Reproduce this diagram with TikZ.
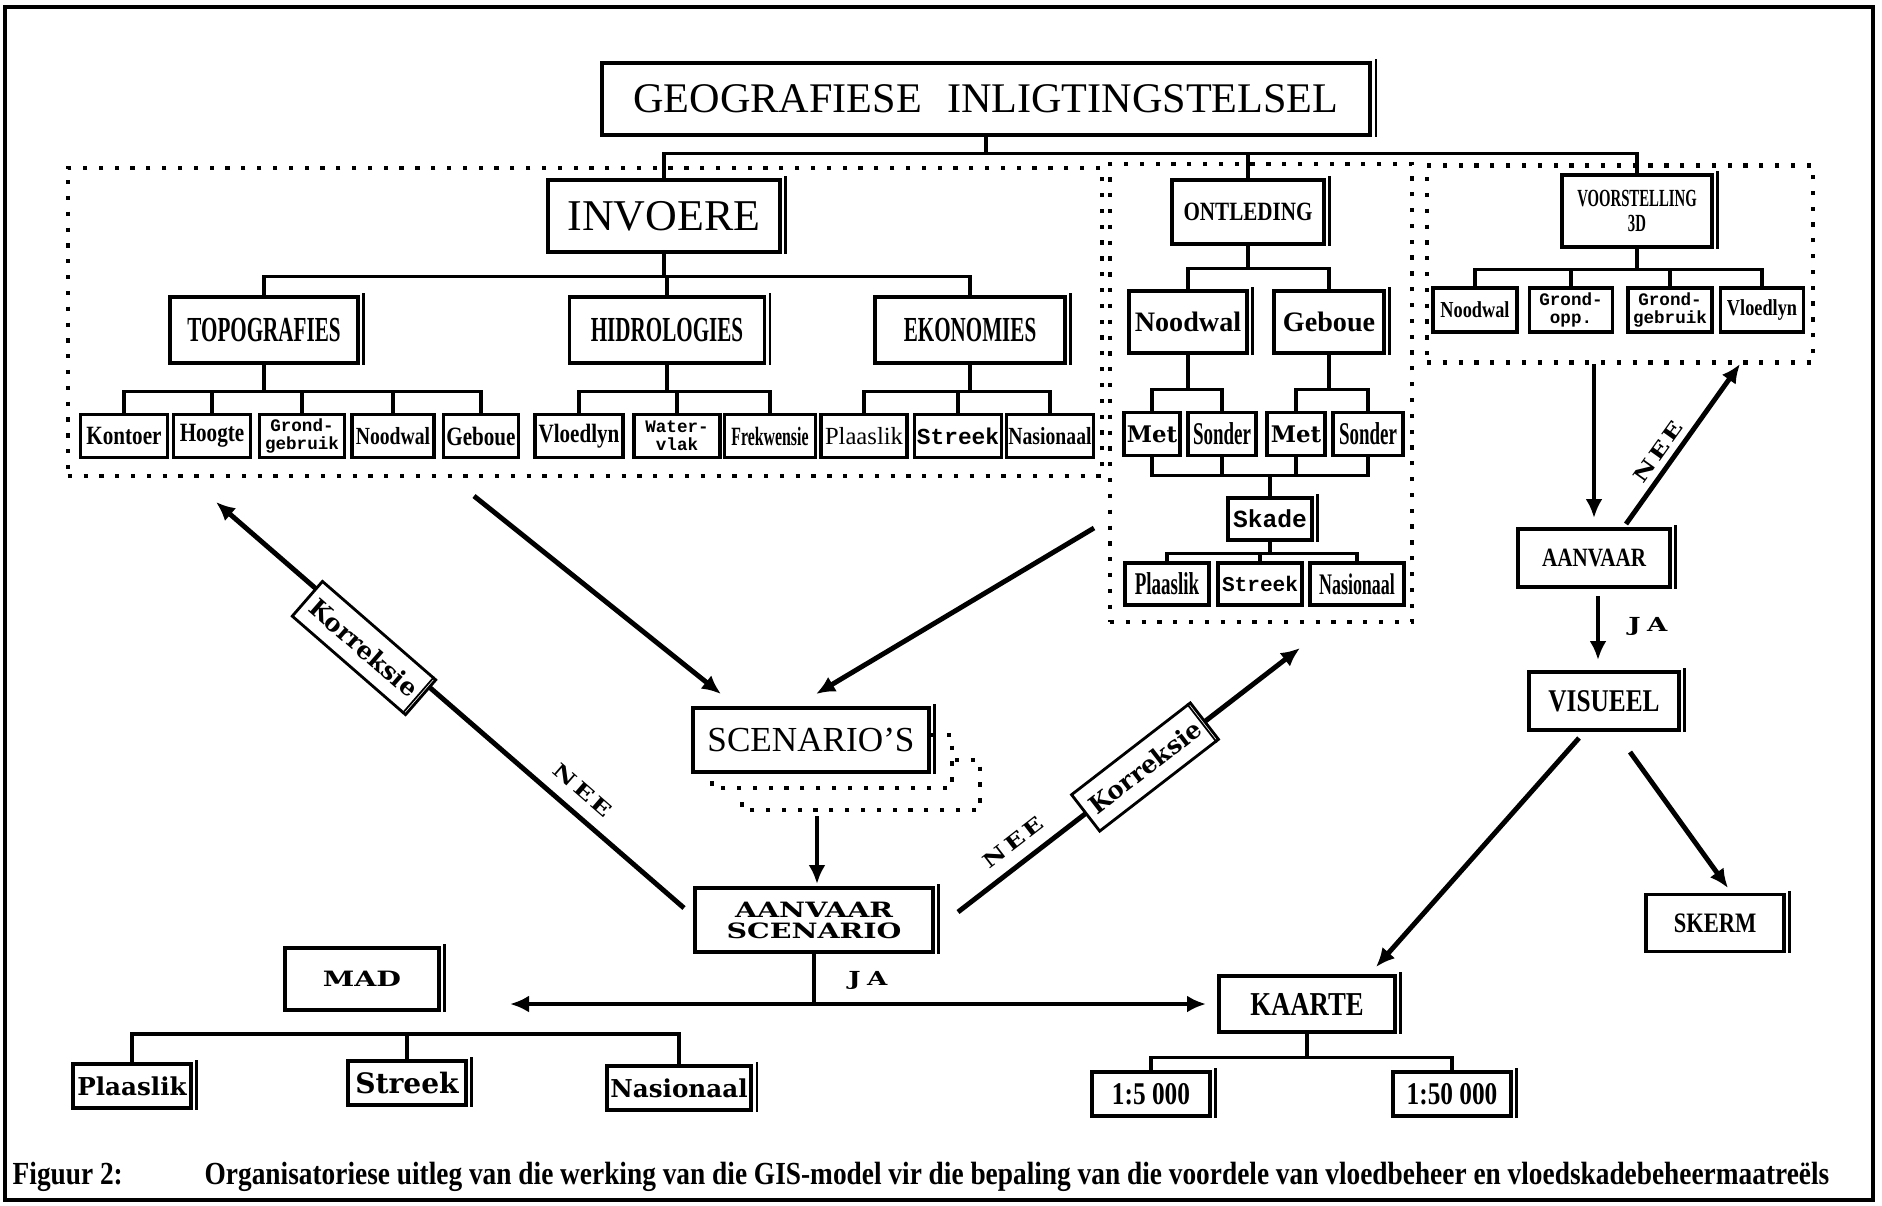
\documentclass[tikz,border=0pt]{standalone}
\usepackage{fontspec}
\setmainfont{Liberation Serif}
\newfontfamily\narrowfam{Liberation Serif}[FakeStretch=0.6]
\newfontfamily\semifam{Liberation Serif}[FakeStretch=0.8]
\newfontfamily\slabfam{DejaVu Serif}
\newfontfamily\widefam{DejaVu Serif}[FakeStretch=1.35]
\newfontfamily\typefam{Liberation Mono}
\newfontfamily\capfam{Liberation Serif}[FakeStretch=0.85]
\newcommand\fsz[1]{\fontsize{#1}{#1}\selectfont}
\usetikzlibrary{arrows.meta,calc}
\begin{document}
\begin{tikzpicture}[x=0.01cm, y=-0.01cm, >={Latex[length=1.9mm,width=1.7mm]},
  bigbox/.style={draw, line width=1pt, fill=white, inner sep=1pt, align=center,
    append after command={\pgfextra{\draw[line width=0.7pt]
      ([xshift=1.1pt,yshift=0.5pt]\tikzlastnode.north east) --
      ([xshift=1.1pt]\tikzlastnode.south east);}}},
  smallbox/.style={draw, line width=0.9pt, fill=white, inner sep=0.5pt, align=center},
  region/.style={draw, line width=1.2pt, dash pattern=on 1.2pt off 3.3pt},
  tree/.style={line width=0.9pt},
  flow/.style={line width=1.4pt, ->},
  korrbox/.style={draw, line width=0.8pt, fill=white, minimum width=15mm, minimum height=4.6mm, inner sep=0.5pt, font=\slabfam\bfseries\fsz{7}},
  tag/.style={font=\widefam\bfseries\fsz{5.5}},
  freg/.style={font=\rmfamily\fsz{#1}},
  fbold/.style={font=\rmfamily\bfseries\fsz{#1}},
  fnarrow/.style={font=\narrowfam\bfseries\fsz{#1}},
  fsemi/.style={font=\semifam\bfseries\fsz{#1}},
  fslab/.style={font=\slabfam\bfseries\fsz{#1}},
  fwide/.style={font=\widefam\bfseries\fsz{#1}},
  ftype/.style={font=\typefam\bfseries\fsz{#1}},
]
\useasboundingbox (0,0) rectangle (1882,1205);
\draw[line width=1pt] (5,7) rectangle (1873,1200);

\node[region, minimum width=103.4mm, minimum height=30.8mm] (invreg) at (585,322) {};
\node[region, minimum width=30.2mm, minimum height=45.8mm] (ontreg) at (1261,393) {};
\node[region, minimum width=38.6mm, minimum height=19.7mm] (voorreg) at (1620,264) {};

\node[bigbox, freg=12, minimum width=76.8mm, minimum height=7.2mm] (gis) at (986,99) {GEOGRAFIESE\hspace{0.6em}INLIGTINGSTELSEL};

\node[bigbox, freg=12.5, minimum width=23.2mm, minimum height=7.2mm] (inv) at (664,216) {INVOERE};
\node[bigbox, fnarrow=10, minimum width=18.8mm, minimum height=6.6mm] (topo) at (264,330) {TOPOGRAFIES};
\node[bigbox, fnarrow=10, minimum width=19.5mm, minimum height=6.6mm] (hid) at (667,330) {HIDROLOGIES};
\node[bigbox, fnarrow=10, minimum width=19mm, minimum height=6.6mm] (eko) at (970,330) {EKONOMIES};
\node[smallbox, fsemi=7.5, minimum width=8.7mm, minimum height=4.3mm] (kon) at (124,436) {Kontoer};
\node[smallbox, fsemi=7.5, minimum width=7.7mm, minimum height=4.3mm] (hoo) at (212,436) {Hoogte};
\node[smallbox, ftype=5, minimum width=8.5mm, minimum height=4.3mm] (grg) at (302,436) {Grond-\\gebruik};
\node[smallbox, fsemi=7, minimum width=8.2mm, minimum height=4.3mm] (noo) at (393,436) {Noodwal};
\node[smallbox, fsemi=7.5, minimum width=7.5mm, minimum height=4.3mm] (geb) at (481,436) {Geboue};
\node[smallbox, fsemi=7.5, minimum width=8.8mm, minimum height=4.3mm] (vlo) at (579,436) {Vloedlyn};
\node[smallbox, ftype=5, minimum width=8.6mm, minimum height=4.3mm] (wat) at (677,436) {Water-\\vlak};
\node[smallbox, fnarrow=7.5, minimum width=9.1mm, minimum height=4.3mm] (fre) at (770,436) {Frekwensie};
\node[smallbox, freg=7, minimum width=8.6mm, minimum height=4.3mm] (pla) at (864,436) {Plaaslik};
\node[smallbox, ftype=6.5, minimum width=8.7mm, minimum height=4.3mm] (str) at (958,436) {Streek};
\node[smallbox, fsemi=7, minimum width=8.7mm, minimum height=4.3mm] (nas) at (1050,436) {Nasionaal};

\node[bigbox, fsemi=7.5, minimum width=15.2mm, minimum height=6.4mm] (ont) at (1248,212) {ONTLEDING};
\node[bigbox, fbold=8, minimum width=11.8mm, minimum height=6.2mm] (nw2) at (1188,322) {Noodwal};
\node[bigbox, fbold=8, minimum width=11mm, minimum height=6.2mm] (gb2) at (1329,322) {Geboue};
\node[smallbox, fslab=6.5, minimum width=5.6mm, minimum height=4.3mm] (me1) at (1152,434) {Met};
\node[smallbox, fnarrow=9, minimum width=6.8mm, minimum height=4.3mm] (so1) at (1222,434) {Sonder};
\node[smallbox, fslab=6.5, minimum width=5.8mm, minimum height=4.3mm] (me2) at (1296,434) {Met};
\node[smallbox, fnarrow=9, minimum width=7mm, minimum height=4.3mm] (so2) at (1368,434) {Sonder};
\node[bigbox, ftype=7, minimum width=8.4mm, minimum height=4.2mm] (ska) at (1270,519) {Skade};
\node[smallbox, fnarrow=9, minimum width=8.4mm, minimum height=4.2mm] (pl2) at (1167,584) {Plaaslik};
\node[smallbox, ftype=6, minimum width=8.4mm, minimum height=4.2mm] (st2) at (1260,584) {Streek};
\node[smallbox, fnarrow=8.5, minimum width=9.4mm, minimum height=4.2mm] (na2) at (1357,584) {Nasionaal};

\node[bigbox, fnarrow=7, minimum width=15mm, minimum height=7.2mm] (voor) at (1637,211) {VOORSTELLING\\3D};
\node[smallbox, fsemi=6.5, minimum width=8.4mm, minimum height=4.4mm] (vnw) at (1475,310) {Noodwal};
\node[smallbox, ftype=5, minimum width=8.3mm, minimum height=4.4mm] (vgo) at (1571,310) {Grond-\\opp.};
\node[smallbox, ftype=5, minimum width=8.4mm, minimum height=4.4mm] (vgg) at (1670,310) {Grond-\\gebruik};
\node[smallbox, fsemi=6.5, minimum width=8.3mm, minimum height=4.4mm] (vvl) at (1762,310) {Vloedlyn};

\node[bigbox, fsemi=7.5, minimum width=15.2mm, minimum height=5.8mm] (aan) at (1594,558) {AANVAAR};
\node[bigbox, fsemi=9, minimum width=15mm, minimum height=5.8mm] (vis) at (1604,701) {VISUEEL};
\node[bigbox, fsemi=8, minimum width=13.8mm, minimum height=5.7mm] (ske) at (1715,923) {SKERM};
\node[bigbox, fsemi=9.5, minimum width=17.6mm, minimum height=5.6mm] (kaa) at (1307,1004) {KAARTE};
\node[bigbox, fsemi=9, minimum width=11.8mm, minimum height=4.4mm] (k5) at (1151,1094) {1:5 000};
\node[bigbox, fsemi=9, minimum width=11.8mm, minimum height=4.4mm] (k50) at (1452,1094) {1:50 000};

\draw[region, line width=1.1pt] (931,735) -- (952,735) -- (952,788) -- (712,788) -- (712,776);
\draw[region, line width=1.1pt] (955,760) -- (980,760) -- (980,810) -- (742,810) -- (742,795);
\node[bigbox, freg=10, minimum width=23.6mm, minimum height=6.4mm] (sce) at (811,740) {SCENARIO'S};
\node[bigbox, fwide=6, minimum width=23.8mm, minimum height=6.4mm] (asc) at (814,920) {AANVAAR\\SCENARIO};
\node[bigbox, fwide=6, minimum width=15.4mm, minimum height=6.2mm] (mad) at (362,979) {MAD};
\node[bigbox, fslab=7, minimum width=11.8mm, minimum height=4.4mm] (mpl) at (132,1086) {Plaaslik};
\node[bigbox, fslab=8, minimum width=11.8mm, minimum height=4.4mm] (mst) at (407,1083) {Streek};
\node[bigbox, fslab=7, minimum width=14.4mm, minimum height=4.4mm] (mna) at (679,1088) {Nasionaal};

\draw[tree] (gis.south) -- ++(0,17) -| (inv.north);
\draw[tree] (gis.south) -- ++(0,17) -| (ont.north);
\draw[tree] (gis.south) -- ++(0,17) -| (voor.north);
\draw[tree] (inv.south) -- ++(0,23) -| (topo.north);
\draw[tree] (inv.south) -- ++(0,23) -| (hid.north);
\draw[tree] (inv.south) -- ++(0,23) -| (eko.north);
\draw[tree] (topo.south) -- ++(0,27) -| (kon.north);
\draw[tree] (topo.south) -- ++(0,27) -| (hoo.north);
\draw[tree] (topo.south) -- ++(0,27) -| (grg.north);
\draw[tree] (topo.south) -- ++(0,27) -| (noo.north);
\draw[tree] (topo.south) -- ++(0,27) -| (geb.north);
\draw[tree] (hid.south) -- ++(0,27) -| (vlo.north);
\draw[tree] (hid.south) -- ++(0,27) -| (wat.north);
\draw[tree] (hid.south) -- ++(0,27) -| (fre.north);
\draw[tree] (eko.south) -- ++(0,27) -| (pla.north);
\draw[tree] (eko.south) -- ++(0,27) -| (str.north);
\draw[tree] (eko.south) -- ++(0,27) -| (nas.north);
\draw[tree] (ont.south) -- ++(0,23) -| (nw2.north);
\draw[tree] (ont.south) -- ++(0,23) -| (gb2.north);
\draw[tree] (nw2.south) -- ++(0,35) -| (me1.north);
\draw[tree] (nw2.south) -- ++(0,35) -| (so1.north);
\draw[tree] (gb2.south) -- ++(0,35) -| (me2.north);
\draw[tree] (gb2.south) -- ++(0,35) -| (so2.north);
\draw[tree] (me1.south) -- ++(0,18) -| (ska.north);
\draw[tree] (so1.south) -- ++(0,18) -| (ska.north);
\draw[tree] (me2.south) -- ++(0,18) -| (ska.north);
\draw[tree] (so2.south) -- ++(0,18) -| (ska.north);
\draw[tree] (ska.south) -- ++(0,12) -| (pl2.north);
\draw[tree] (ska.south) -- ++(0,12) -| (st2.north);
\draw[tree] (ska.south) -- ++(0,12) -| (na2.north);
\draw[tree] (voor.south) -- ++(0,21) -| (vnw.north);
\draw[tree] (voor.south) -- ++(0,21) -| (vgo.north);
\draw[tree] (voor.south) -- ++(0,21) -| (vgg.north);
\draw[tree] (voor.south) -- ++(0,21) -| (vvl.north);
\draw[tree] (kaa.south) -- ++(0,24) -| (k5.north);
\draw[tree] (kaa.south) -- ++(0,24) -| (k50.north);
\coordinate (madbar) at (407,1034);
\draw[tree] (mpl.north) |- (madbar) -| (mna.north);
\draw[tree] (mst.north) -- (mst.north |- madbar);

\coordinate (i1) at (474,496);
\coordinate (i2) at (721,694);
\coordinate (o1) at (1094,528);
\coordinate (o2) at (816,694);
\coordinate (s1) at (817,816);
\coordinate (s2) at (817,884);
\draw[flow] (i1) -- (i2);
\draw[flow] (o1) -- (o2);
\draw[flow] (s1) -- (s2);

\coordinate (kl1) at (684,908);
\coordinate (kl2) at (216,502);
\draw[flow] (kl1) -- (kl2);
\node[korrbox, rotate=-41] (korl) at (364,648) {Korreksie};
\draw[line width=0.5pt] ($(korl.north east)!1.3pt!(korl.north west)$) -- ($(korl.south east)!1.3pt!(korl.south west)$);
\node[tag, rotate=-41] (neel) at (583,790) {N\,E\,E};

\coordinate (kr1) at (958,912);
\coordinate (kr2) at (1300,648);
\draw[flow] (kr1) -- (kr2);
\node[korrbox, rotate=37.7] (korr) at (1145,767) {Korreksie};
\draw[line width=0.5pt] ($(korr.north east)!1.3pt!(korr.north west)$) -- ($(korr.south east)!1.3pt!(korr.south west)$);
\node[tag, rotate=37.7] (neer) at (1013,842) {N\,E\,E};

\coordinate (jal) at (510,1004);
\coordinate (jar) at (1206,1004);
\draw[flow, <->] (jal) -- (jar);
\draw[line width=1.4pt] (asc.south) -- (asc.south |- jal);
\node[tag, anchor=west] (ja1) at (836,980) {J\,\,A};

\coordinate (v1) at (1594,364);
\coordinate (v2) at (1594,518);
\draw[flow] (v1) -- (v2);
\coordinate (n1) at (1626,524);
\coordinate (n2) at (1740,364);
\draw[flow] (n1) -- (n2);
\node[tag, rotate=54.5] (neev) at (1658,452) {N\,E\,E};
\coordinate (j1) at (1598,596);
\coordinate (j2) at (1598,660);
\draw[flow] (j1) -- (j2);
\node[tag, anchor=west] (ja2) at (1616,626) {J\,\,A};
\coordinate (w1) at (1579,738);
\coordinate (w2) at (1376,967);
\draw[flow] (w1) -- (w2);
\coordinate (w3) at (1630,752);
\coordinate (w4) at (1728,888);
\draw[flow] (w3) -- (w4);

\node[anchor=west, inner sep=0pt, font=\capfam\bfseries\fsz{9.15}] (fig) at (12,1177) {Figuur 2:};
\node[anchor=west, inner sep=0pt, font=\capfam\bfseries\fsz{9.15}] (cap) at (204,1177) {Organisatoriese uitleg van die werking van die GIS-model vir die bepaling van die voordele van vloedbeheer en vloedskadebeheermaatreëls};
\end{tikzpicture}
\end{document}
